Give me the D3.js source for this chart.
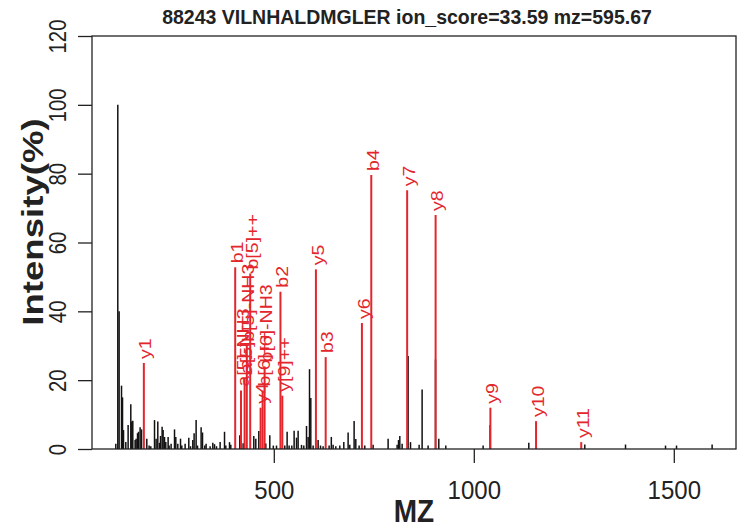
<!DOCTYPE html>
<html><head><meta charset="utf-8">
<script src="https://cdn.jsdelivr.net/npm/d3@7"></script>
<style>
html,body{margin:0;padding:0;background:#fff;}
svg{display:block;}
text{font-family:"Liberation Sans",Arial,Helvetica,sans-serif;}
</style></head>
<body><svg id="chart" width="745" height="529"></svg>
<script>
const titleText = "88243 VILNHALDMGLER ion_score=33.59 mz=595.67";
const xTicks = [500, 1000, 1500];
const yTicks = [0, 20, 40, 60, 80, 100, 120];

// unmatched (black) peaks
const peakMz = [105,110,113.3,119.3,121.8,124.3,130,135.8,142.5,145,147.5,153.3,155.8,159.3,161.8,165.8,169.3,182.5,188.3,192.5,201.8,205.8,210,214.3,216.8,220.8,223.3,226.8,230,235.8,238.3,243.3,251.8,255,260,266.8,270,278.3,287.5,291.8,297.5,300.8,305.8,309.3,318.3,321.8,327.5,330.8,340.8,347.5,351.8,356.8,365.8,376.8,380,389.3,
392.5,415,423.3,450,455,462.5,480,490,498.8,506.8,527.5,533.3,538.3,545,550.8,556.8,560.8,569.3,575,581.8,585.8,589.3,592.5,598.3,610.8,616.8,623.3,638.3,643.8,648.3,655,665,675,685.8,690,700.8,705,713.3,727.5,
748.3,785.8,808.3,811.8,815,820.8,835.8,841.8,863.3,870.8,885.8,904.3,912.5,930,1023.3,1040.8,1137.5,1277.5,1379.3,1479.3,1506.8,1595.8];
const peakInt = [1.5,100,40,18.4,15,5.5,2,7,13,8,8.2,2.6,3,4.6,5,6.3,5.7,3,1,0.8,8.4,3,8,1.8,3.8,6.5,5.5,3.5,2,3.5,1,1.5,5.7,3.5,1.5,3,1,1.5,3.3,0.8,2.6,4.6,8.4,1,6.3,4.8,1,1.5,0.8,1.8,1.4,0.8,2,5,1,2,
1.2,4,1.7,3.8,3,5.2,1.6,4,1,1,1,5,1,1,5.3,3.3,5.3,1.2,1,6.7,3.5,23.2,14.8,1,2.6,1,0.8,1,3.5,1.2,0.8,1,2,4.8,1.2,8.1,2.9,1,1,
1.2,3,1.2,2.6,3.8,1.5,27,2,1.2,17.3,1,26,3,1,1,7,1.8,1.3,1.3,1,1,1.3];

// matched (red) ion peaks
const ionLabels = ["y1","b1","a[5]-NH3","a[5]","b[5]-NH3","b[5]++","y4","b[6]++","b[6]-NH3","b2","y[9]++","y5","b3","y6","b4","y7","y8","y9","y10","y11"];
const ionMz = [175.1,403.5,418,427,432.5,441,467,472,477,516.6,521.3,605.3,629.7,720.3,743.7,833.4,904.5,1041.5,1155.6,1268.6];
const ionInt = [25,52.8,17,20.6,30,51,12,17,24,45.7,15.5,52.2,26.7,36.6,79.6,75.2,68,12,8.1,2];

const svg = d3.select("#chart");
const L = 92, R = 736, T = 36, B = 449;
const x = d3.scaleLinear().domain([45.5, 1655.5]).range([L, R]);
const y = d3.scaleLinear().domain([0, 120]).range([B, T]);

const peaks = peakMz.map((m, i) => ({mz: m, v: peakInt[i]}));
const ions = ionMz.map((m, i) => ({mz: m, v: ionInt[i], lab: ionLabels[i]}));

// black peaks
svg.append("g").selectAll("line").data(peaks).join("line")
  .attr("x1", d => x(d.mz)).attr("x2", d => x(d.mz))
  .attr("y1", y(0)).attr("y2", d => y(d.v))
  .attr("stroke", "#111").attr("stroke-width", 1.5);

// red peaks
svg.append("g").selectAll("line").data(ions).join("line")
  .attr("x1", d => x(d.mz)).attr("x2", d => x(d.mz))
  .attr("y1", y(0)).attr("y2", d => y(d.v))
  .attr("stroke", "#e3262c").attr("stroke-width", 2);

svg.append("g").selectAll("text").data(ions).join("text")
  .attr("transform", d => `translate(${x(d.mz) + 2},${y(d.v) - 4}) rotate(-90) scale(1.22,1)`)
  .attr("dy", "0.35em")
  .attr("fill", "#e3262c").attr("font-size", 16)
  .text(d => d.lab);

// box
svg.append("rect").attr("x", L).attr("y", T).attr("width", R - L).attr("height", B - T)
  .attr("fill", "none").attr("stroke", "#222").attr("stroke-width", 1.3);

// x axis
const xa = svg.append("g").attr("transform", `translate(0,${B})`)
  .call(d3.axisBottom(x).tickValues(xTicks).tickFormat(d3.format("d")).tickSize(14).tickSizeOuter(0).tickPadding(0));
xa.select(".domain").remove();
xa.selectAll("line").attr("stroke", "#222").attr("stroke-width", 1.3);
xa.selectAll("text").remove();
xa.selectAll(".tick").append("text")
  .attr("transform", "translate(0,50) scale(1,1.1)")
  .attr("text-anchor", "middle")
  .attr("fill", "#222").attr("font-size", 24)
  .attr("font-family", "Liberation Sans, Arial, sans-serif")
  .text(d => d3.format("d")(d));

// y axis
const ya = svg.append("g").attr("transform", `translate(${L},0)`)
  .call(d3.axisLeft(y).tickValues(yTicks).tickSize(14).tickSizeOuter(0).tickPadding(0));
ya.select(".domain").remove();
ya.selectAll("line").attr("stroke", "#222").attr("stroke-width", 1.3);
ya.selectAll("text").remove();
ya.selectAll(".tick").append("text")
  .attr("transform", "translate(-26,0) rotate(-90) scale(0.97,1.15)")
  .attr("text-anchor", "middle")
  .attr("fill", "#222").attr("font-size", 21)
  .attr("font-family", "Liberation Sans, Arial, sans-serif")
  .text(d => d);

// titles
svg.append("text").attr("transform", "translate(407,24) scale(1,1.05)").attr("text-anchor", "middle")
  .attr("font-weight", "bold").attr("font-size", 19.5).attr("fill", "#222").text(titleText);
svg.append("text").attr("transform", "translate(414,522) scale(1,1.12)").attr("text-anchor", "middle")
  .attr("font-weight", "bold").attr("font-size", 28).attr("fill", "#222").text("MZ");
svg.append("text").attr("transform", "translate(43,222) rotate(-90) scale(1.22,1)").attr("text-anchor", "middle")
  .attr("font-weight", "bold").attr("font-size", 30).attr("fill", "#222").text("Intensity(%)");
</script></body></html>
